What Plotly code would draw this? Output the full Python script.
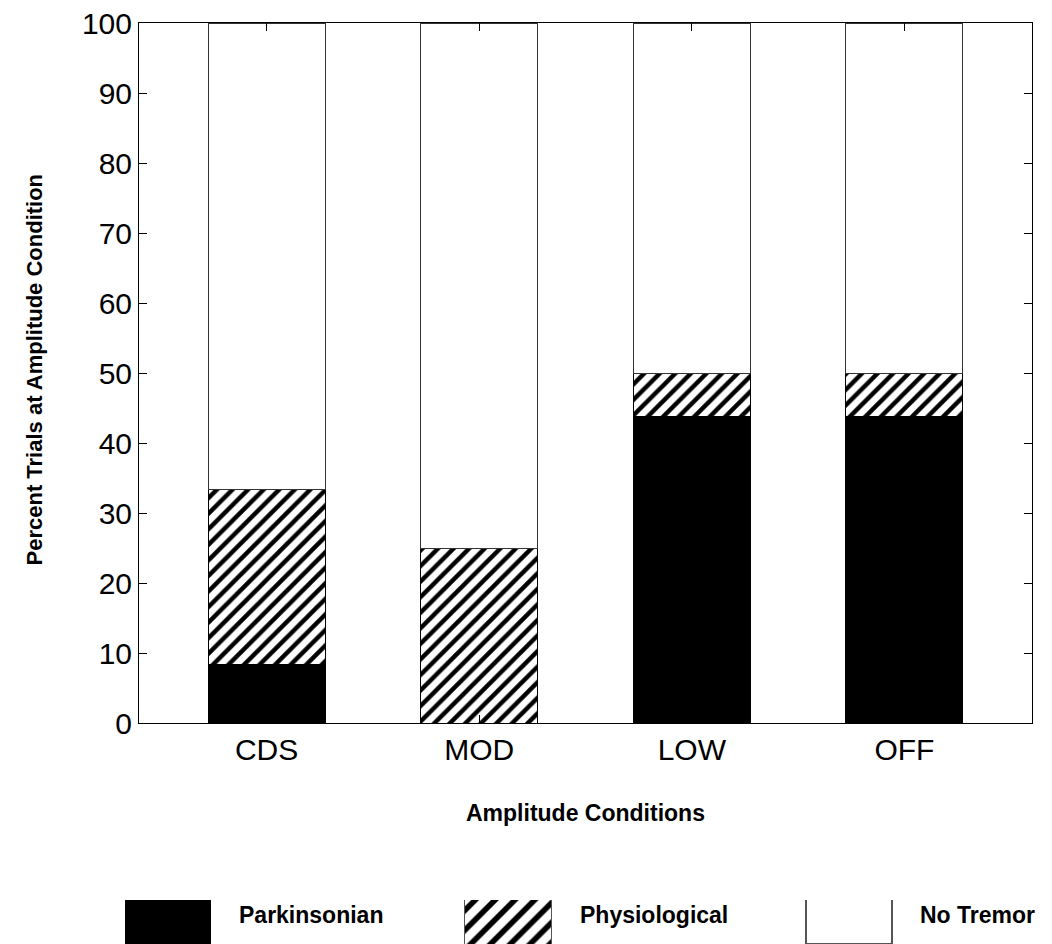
import plotly.graph_objects as go

# data
conditions = ["CDS", "MOD", "LOW", "OFF"]
parkinsonian = [8.33, 0, 43.75, 43.75]
physiological = [25.0, 25.0, 6.25, 6.25]
no_tremor = [66.67, 75.0, 50.0, 50.0]

legend_names = ["Parkinsonian", "Physiological", "No Tremor"]
legend_x = [168, 508, 849]       # swatch centres, in pixels
legend_w = [85, 87, 86]

W, H = 1052, 944
FONT = "Liberation Sans, Arial, sans-serif"

fig = go.Figure()

bar_line = dict(color="black", width=1)
hatch = dict(shape="/", fgcolor="black", bgcolor="white", fgopacity=1, size=11, solidity=0.4)

fig.add_trace(go.Bar(x=conditions, y=parkinsonian, name="Parkinsonian",
                     marker=dict(color="black", line=bar_line), width=0.55))
fig.add_trace(go.Bar(x=conditions, y=physiological, name="Physiological",
                     marker=dict(color="white", line=bar_line, pattern=hatch),
                     width=0.55))
fig.add_trace(go.Bar(x=conditions, y=no_tremor, name="No Tremor",
                     marker=dict(color="white", line=dict(color="#333333", width=1)),
                     width=0.55))

# legend swatches drawn as bars on a second axis
fills = [
    dict(color="black", line=bar_line),
    dict(color="white", line=dict(color="#555555", width=1), pattern=dict(hatch, size=14)),
    dict(color="white", line=dict(color="#555555", width=1.5)),
]
for i, name in enumerate(legend_names):
    fig.add_trace(go.Bar(x=[legend_x[i]], y=[1.2], base=[0], width=[legend_w[i]],
                         marker=fills[i], xaxis="x2", yaxis="y2", showlegend=False,
                         hoverinfo="skip"))
    fig.add_annotation(text="<b>%s</b>" % name, xref="x2", yref="paper",
                       x=legend_x[i] + legend_w[i] / 2 + 26, y=1 - 915 / H,
                       xanchor="left", yanchor="middle", showarrow=False,
                       font=dict(family=FONT, size=23, color="black"))

fig.update_layout(
    width=W, height=H,
    margin=dict(l=0, r=0, t=0, b=0, autoexpand=False),
    paper_bgcolor="white", plot_bgcolor="white",
    barmode="stack", showlegend=False,
    font=dict(family=FONT, color="black"),
    xaxis=dict(domain=[139 / W, 1032 / W], range=[-0.6, 3.6], automargin=False,
               showline=True, linecolor="black", linewidth=1, mirror="ticks",
               ticks="inside", ticklen=8, tickcolor="black",
               tickfont=dict(size=30), showgrid=False, zeroline=False),
    yaxis=dict(domain=[1 - 723 / H, 1 - 23 / H], range=[0, 100], dtick=10, automargin=False,
               showline=True, linecolor="black", linewidth=1, mirror="ticks",
               ticks="inside", ticklen=8, tickcolor="black",
               tickfont=dict(size=30), showgrid=False, zeroline=False),
    xaxis2=dict(domain=[0, 1], range=[0, W], visible=False, anchor="y2", automargin=False),
    yaxis2=dict(domain=[0, 1 - 900 / H], range=[0, 1], visible=False, anchor="x2",
                automargin=False),
)

fig.add_annotation(text="<b>Amplitude Conditions</b>", xref="paper", yref="paper",
                   x=585 / W, y=1 - 828 / H, showarrow=False,
                   font=dict(family=FONT, size=23, color="black"))
fig.add_annotation(text="<b>Percent Trials at Amplitude Condition</b>", xref="paper",
                   yref="paper", x=20 / W, y=1 - 370 / H, textangle=-90,
                   showarrow=False, font=dict(family=FONT, size=22, color="black"))

fig.write_html("out.html", config={"displayModeBar": False},
               post_script="document.body.style.margin='0';")
